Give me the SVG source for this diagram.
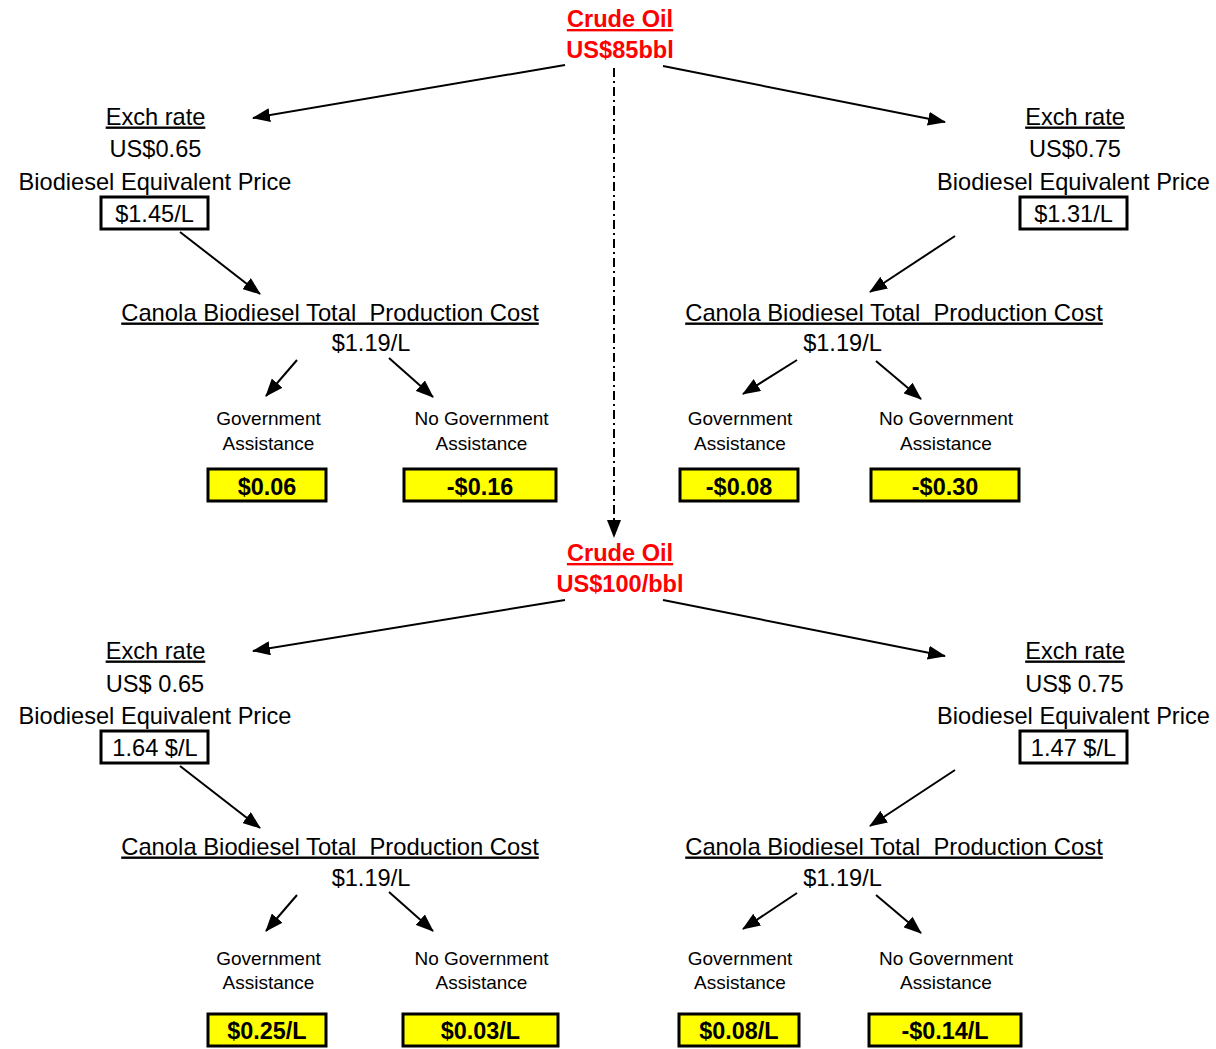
<svg xmlns="http://www.w3.org/2000/svg" width="1216" height="1049" viewBox="0 0 1216 1049">
<defs>
<style>
text{font-family:"Liberation Sans",Arial,sans-serif;text-anchor:middle;fill:#000;white-space:pre}
.t{font-size:23.6px}
.cc{font-size:23.8px}
.u{text-decoration:underline}
.s{font-size:19px}
.red{fill:#ff0000;font-weight:bold;font-size:23.6px}
.yb{font-weight:bold;font-size:23.4px}
.box{fill:#fff;stroke:#000;stroke-width:3}
.ybox{fill:#ffff00;stroke:#000;stroke-width:3}
.c{stroke:#000;stroke-width:2;fill:none;marker-end:url(#ah)}
.dd{stroke:#000;stroke-width:2;fill:none;stroke-dasharray:9 4 2 4;marker-end:url(#ah)}
</style>
<marker id="ah" markerUnits="userSpaceOnUse" markerWidth="18" markerHeight="14" viewBox="0 0 18 14" refX="17" refY="7" orient="auto">
<path d="M0,0 L18,7 L0,14 Z" fill="#000"/>
</marker>
</defs>
<rect width="1216" height="1049" fill="#fff"/>

<g id="connectors">
<line class="dd" x1="614" y1="68" x2="614" y2="537"/>
<line class="c" x1="565" y1="65" x2="253" y2="118"/>
<line class="c" x1="663" y1="66" x2="945" y2="122"/>
<line class="c" x1="180" y1="232" x2="260" y2="294"/>
<line class="c" x1="955" y1="236" x2="870" y2="292"/>
<line class="c" x1="297" y1="360" x2="266" y2="396"/>
<line class="c" x1="389" y1="358" x2="433" y2="397"/>
<line class="c" x1="797" y1="360" x2="743" y2="394"/>
<line class="c" x1="876" y1="361" x2="921" y2="399"/>
<line class="c" x1="565" y1="600" x2="253" y2="651"/>
<line class="c" x1="663" y1="600" x2="945" y2="656"/>
<line class="c" x1="180" y1="766" x2="260" y2="828"/>
<line class="c" x1="955" y1="770" x2="870" y2="826"/>
<line class="c" x1="297" y1="895" x2="266" y2="931"/>
<line class="c" x1="389" y1="892" x2="433" y2="931"/>
<line class="c" x1="797" y1="893" x2="743" y2="929"/>
<line class="c" x1="876" y1="895" x2="921" y2="933"/>
</g>

<g id="crude85">
<text class="red u" x="620" y="27">Crude Oil</text>
<text class="red" x="620" y="57.5">US$85bbl</text>
</g>

<g id="tl-exch">
<text class="t u" x="155.5" y="124.5">Exch rate</text>
<text class="t" x="155.5" y="156.5">US$0.65</text>
<text class="t" x="155" y="189.5">Biodiesel Equivalent Price</text>
<rect class="box" x="101" y="197" width="107" height="32"/>
<text class="t" x="154.5" y="221.5">$1.45/L</text>
</g>

<g id="tr-exch">
<text class="t u" x="1075" y="124.5">Exch rate</text>
<text class="t" x="1075" y="156.5">US$0.75</text>
<text class="t" x="1073.5" y="189.5">Biodiesel Equivalent Price</text>
<rect class="box" x="1020" y="197" width="107" height="32"/>
<text class="t" x="1073.5" y="221.5">$1.31/L</text>
</g>

<g id="tl-cost">
<text class="cc u" x="330" y="320.5">Canola Biodiesel Total  Production Cost</text>
<text class="t" x="371" y="350.5">$1.19/L</text>
</g>

<g id="tr-cost">
<text class="cc u" x="894" y="320.5">Canola Biodiesel Total  Production Cost</text>
<text class="t" x="842.5" y="350.5">$1.19/L</text>
</g>

<g id="tl-gov">
<text class="s" x="268.5" y="425">Government</text>
<text class="s" x="268.5" y="450">Assistance</text>
<rect class="ybox" x="208" y="469" width="118" height="32"/>
<text class="yb" x="267" y="494.5">$0.06</text>
</g>

<g id="tl-nogov">
<text class="s" x="481.5" y="425">No Government</text>
<text class="s" x="481.5" y="450">Assistance</text>
<rect class="ybox" x="404" y="469" width="152" height="32"/>
<text class="yb" x="480" y="494.5">-$0.16</text>
</g>

<g id="tr-gov">
<text class="s" x="740" y="425">Government</text>
<text class="s" x="740" y="450">Assistance</text>
<rect class="ybox" x="680" y="469" width="118" height="32"/>
<text class="yb" x="739" y="494.5">-$0.08</text>
</g>

<g id="tr-nogov">
<text class="s" x="946" y="425">No Government</text>
<text class="s" x="946" y="450">Assistance</text>
<rect class="ybox" x="871" y="469" width="148" height="32"/>
<text class="yb" x="945" y="494.5">-$0.30</text>
</g>

<g id="crude100">
<text class="red u" x="620" y="561">Crude Oil</text>
<text class="red" x="620" y="591.5">US$100/bbl</text>
</g>

<g id="bl-exch">
<text class="t u" x="155.5" y="658.5">Exch rate</text>
<text class="t" x="155" y="691.5">US$ 0.65</text>
<text class="t" x="155" y="723.5">Biodiesel Equivalent Price</text>
<rect class="box" x="101" y="731" width="107" height="32"/>
<text class="t" x="155" y="755.5">1.64 $/L</text>
</g>

<g id="br-exch">
<text class="t u" x="1075" y="658.5">Exch rate</text>
<text class="t" x="1074.5" y="691.5">US$ 0.75</text>
<text class="t" x="1073.5" y="723.5">Biodiesel Equivalent Price</text>
<rect class="box" x="1020" y="731" width="107" height="32"/>
<text class="t" x="1073.5" y="755.5">1.47 $/L</text>
</g>

<g id="bl-cost">
<text class="cc u" x="330" y="854.5">Canola Biodiesel Total  Production Cost</text>
<text class="t" x="371" y="885.5">$1.19/L</text>
</g>

<g id="br-cost">
<text class="cc u" x="894" y="854.5">Canola Biodiesel Total  Production Cost</text>
<text class="t" x="842.5" y="885.5">$1.19/L</text>
</g>

<g id="bl-gov">
<text class="s" x="268.5" y="965">Government</text>
<text class="s" x="268.5" y="989">Assistance</text>
<rect class="ybox" x="208" y="1014" width="118" height="32"/>
<text class="yb" x="267" y="1038.5">$0.25/L</text>
</g>

<g id="bl-nogov">
<text class="s" x="481.5" y="965">No Government</text>
<text class="s" x="481.5" y="989">Assistance</text>
<rect class="ybox" x="403" y="1014" width="155" height="32"/>
<text class="yb" x="480.5" y="1038.5">$0.03/L</text>
</g>

<g id="br-gov">
<text class="s" x="740" y="965">Government</text>
<text class="s" x="740" y="989">Assistance</text>
<rect class="ybox" x="679" y="1014" width="120" height="32"/>
<text class="yb" x="739" y="1038.5">$0.08/L</text>
</g>

<g id="br-nogov">
<text class="s" x="946" y="965">No Government</text>
<text class="s" x="946" y="989">Assistance</text>
<rect class="ybox" x="869" y="1014" width="152" height="32"/>
<text class="yb" x="945" y="1038.5">-$0.14/L</text>
</g>
</svg>
